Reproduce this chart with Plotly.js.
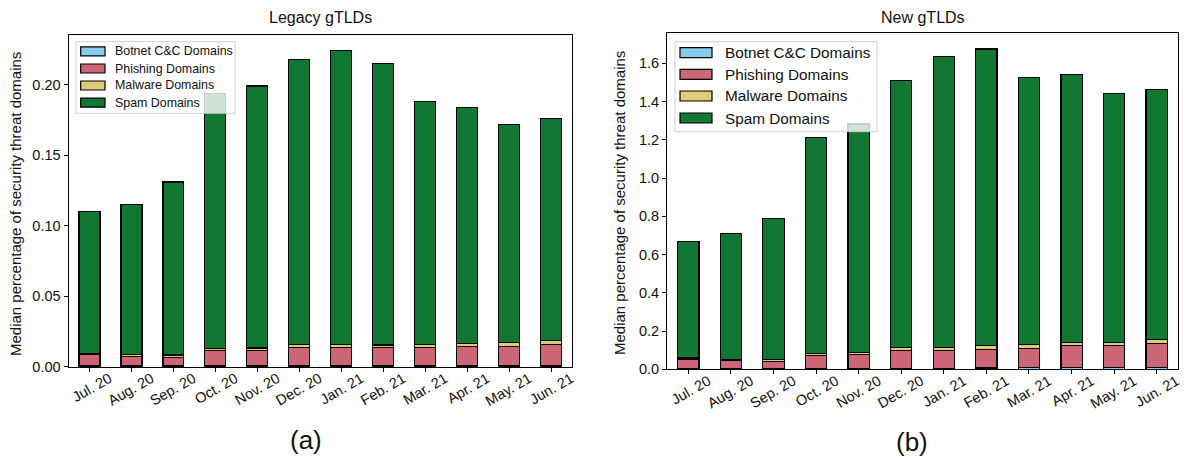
<!DOCTYPE html>
<html><head><meta charset="utf-8">
<script src="https://cdn.plot.ly/plotly-3.0.1.min.js"></script>
<style>html,body{margin:0;padding:0;background:#fff}#chart{width:1189px;height:465px}</style>
</head><body><div id="chart"></div>
<script>
const months = ["Jul. 20","Aug. 20","Sep. 20","Oct. 20","Nov. 20","Dec. 20","Jan. 21","Feb. 21","Mar. 21","Apr. 21","May. 21","Jun. 21"];
const seriesNames = ["Botnet C&C Domains","Phishing Domains","Malware Domains","Spam Domains"];
const seriesColors = ["#88CCEE","#CC6677","#DDCC77","#117733"];

// Legacy gTLDs
const legacyBotnet   = [0.0005,0.0005,0.0005,0.0005,0.0005,0.0005,0.0005,0.0005,0.0005,0.0005,0.0005,0.0005];
const legacyPhishing = [0.0080,0.0068,0.0063,0.0110,0.0112,0.0132,0.0132,0.0130,0.0130,0.0139,0.0139,0.0155];
const legacyMalware  = [0.0010,0.0012,0.0015,0.0015,0.0015,0.0020,0.0019,0.0019,0.0020,0.0021,0.0025,0.0025];
const legacySpam     = [0.1005,0.1065,0.1227,0.1810,0.1858,0.2023,0.2084,0.1996,0.1725,0.1675,0.1551,0.1575];

// New gTLDs
const newBotnet   = [0.004,0.004,0.004,0.005,0.005,0.006,0.006,0.007,0.008,0.008,0.008,0.009];
const newPhishing = [0.047,0.041,0.038,0.068,0.072,0.092,0.092,0.097,0.102,0.116,0.116,0.125];
const newMalware  = [0.008,0.008,0.008,0.010,0.010,0.015,0.015,0.020,0.019,0.017,0.017,0.021];
const newSpam     = [0.609,0.657,0.737,1.127,1.196,1.397,1.522,1.551,1.398,1.399,1.302,1.310];

const W = 1189, H = 465;
const px = x => x / W;
const py = y => 1 - y / H;
const FONT = "Liberation Sans, Arial, Helvetica, sans-serif";

const legacySeries = [legacyBotnet, legacyPhishing, legacyMalware, legacySpam];
const newSeries = [newBotnet, newPhishing, newMalware, newSpam];

const traces = [];
legacySeries.forEach((vals, i) => traces.push({
  type: "bar", x: months, y: vals, name: seriesNames[i], xaxis: "x", yaxis: "y",
  width: 0.5, marker: {color: seriesColors[i], line: {color: "#000", width: 1.2}},
  showlegend: false, hoverinfo: "skip"
}));
newSeries.forEach((vals, i) => traces.push({
  type: "bar", x: months, y: vals, name: seriesNames[i], xaxis: "x2", yaxis: "y2",
  width: 0.5, marker: {color: seriesColors[i], line: {color: "#000", width: 1.2}},
  showlegend: false, hoverinfo: "skip"
}));

const axCommon = {
  showline: true, mirror: true, linecolor: "#000", linewidth: 1,
  ticks: "outside", ticklen: 4, tickwidth: 1, tickcolor: "#000",
  showgrid: false, zeroline: false,
  tickfont: {family: FONT, size: 14.5, color: "#111"}
};
const xExtra = {range: [-0.5, 11.5], tickangle: -30, type: "category",
  ticklabelshift: 20, ticklabelstandoff: -7};

const shapes = [];
const annotations = [];

function addLegend(box, itemYs, sw, textX, fontSize) {
  shapes.push({type: "rect", xref: "paper", yref: "paper", layer: "above",
    x0: px(box[0]), x1: px(box[2]), y0: py(box[3]), y1: py(box[1]),
    fillcolor: "rgba(255,255,255,0.8)", line: {color: "rgba(204,204,204,0.9)", width: 1}});
  seriesNames.forEach((n, i) => {
    const yc = itemYs[i];
    shapes.push({type: "rect", xref: "paper", yref: "paper", layer: "above",
      x0: px(sw[0]), x1: px(sw[1]), y0: py(yc + sw[2] / 2), y1: py(yc - sw[2] / 2),
      fillcolor: seriesColors[i], line: {color: "#000", width: 1.2}});
    annotations.push({xref: "paper", yref: "paper", x: px(textX), y: py(yc),
      xanchor: "left", yanchor: "middle", showarrow: false, text: n,
      font: {family: FONT, size: fontSize, color: "#111"}});
  });
}
addLegend([76, 41.7, 235, 113.3], [51.3, 68.5, 85.5, 102.7], [80.7, 105, 9], 113, 12.4);
addLegend([675, 41.7, 877, 131.7], [52.7, 74.3, 96.0, 118.0], [680, 712, 10], 723, 15.3);

annotations.push(
  {xref: "paper", yref: "paper", x: px(320), y: py(18), xanchor: "center", yanchor: "middle",
   showarrow: false, text: "Legacy gTLDs", font: {family: FONT, size: 16, color: "#111"}},
  {xref: "paper", yref: "paper", x: px(922.5), y: py(17), xanchor: "center", yanchor: "middle",
   showarrow: false, text: "New gTLDs", font: {family: FONT, size: 16, color: "#111"}},
  {xref: "paper", yref: "paper", x: px(306), y: py(440), xanchor: "center", yanchor: "middle",
   showarrow: false, text: "(a)", font: {family: FONT, size: 26, color: "#111"}},
  {xref: "paper", yref: "paper", x: px(912), y: py(442), xanchor: "center", yanchor: "middle",
   showarrow: false, text: "(b)", font: {family: FONT, size: 26, color: "#111"}},
  {xref: "paper", yref: "paper", x: px(15), y: py(204), xanchor: "center", yanchor: "middle",
   showarrow: false, textangle: -90, text: "Median percentage of security threat domains",
   font: {family: FONT, size: 15, color: "#111"}},
  {xref: "paper", yref: "paper", x: px(620), y: py(203), xanchor: "center", yanchor: "middle",
   showarrow: false, textangle: -90, text: "Median percentage of security threat domains",
   font: {family: FONT, size: 15, color: "#111"}}
);

const layout = {
  width: W, height: H, margin: {l: 0, r: 0, t: 0, b: 0},
  paper_bgcolor: "#fff", plot_bgcolor: "#fff",
  barmode: "stack", showlegend: false,
  xaxis: Object.assign({}, axCommon, xExtra, {domain: [px(68.5), px(572)], anchor: "y"}),
  yaxis: Object.assign({}, axCommon, {domain: [1 - 366.7 / H, 1 - 35 / H], anchor: "x",
    range: [0, 0.2352], tickvals: [0, 0.05, 0.10, 0.15, 0.20], tickformat: ".2f"}),
  xaxis2: Object.assign({}, axCommon, xExtra, {domain: [px(667), px(1178)], anchor: "y2"}),
  yaxis2: Object.assign({}, axCommon, {domain: [1 - 369.3 / H, 1 - 32.9 / H], anchor: "x2",
    range: [0, 1.759], tickvals: [0, 0.2, 0.4, 0.6, 0.8, 1.0, 1.2, 1.4, 1.6], tickformat: ".1f"}),
  shapes: shapes, annotations: annotations
};

Plotly.newPlot("chart", traces, layout, {staticPlot: true, displayModeBar: false});
</script></body></html>
